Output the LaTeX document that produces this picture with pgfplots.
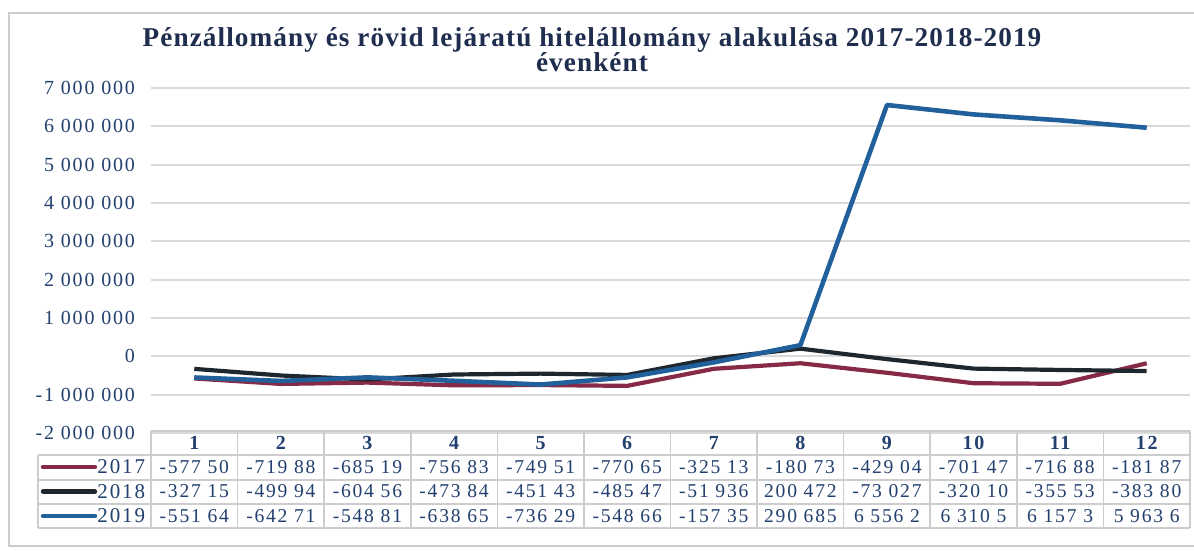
\documentclass[border=0pt]{standalone}
\usepackage{fontspec}
\setmainfont{Liberation Serif}
\newfontfamily\tf[LetterSpace=9]{Liberation Serif}
\newfontfamily\titlef[LetterSpace=4]{Liberation Serif}
\usepackage{pgfplots}
\pgfplotsset{compat=1.18}
\definecolor{cA}{HTML}{862A45}
\definecolor{cB}{HTML}{1E272E}
\definecolor{cC}{HTML}{22609C}
\definecolor{navy}{HTML}{23406F}
\definecolor{titlec}{HTML}{1F2D4E}
\definecolor{gridg}{HTML}{D9D9D9}
\definecolor{frameg}{HTML}{CDCDCD}
\begin{document}
\begin{tikzpicture}
\useasboundingbox (0,0) rectangle (597pt,275.5pt);
\fill[white] (0,0) rectangle (597pt,275.5pt);
\draw[frameg, line width=1pt] (597pt,269pt) -- (4.5pt,269pt) -- (4.5pt,2.5pt) -- (597pt,2.5pt);
\node[text=titlec, font=\titlef\bfseries\fontsize{13.6}{12.5}\selectfont, align=center] at (296pt,250.5pt)
  {Pénzállomány és rövid lejáratú hitelállomány alakulása 2017-2018-2019\\évenként};
\begin{axis}[
  at={(75.5pt,59pt)}, anchor=south west, scale only axis,
  width=519.5pt, height=172.5pt,
  xmin=0.5, xmax=12.5, ymin=-2000000, ymax=7000000,
  xtick=\empty, scaled y ticks=false,
  ytick={-2000000,-1000000,0,1000000,2000000,3000000,4000000,5000000,6000000,7000000},
  yticklabels={-2 000 000,-1 000 000,0,1 000 000,2 000 000,3 000 000,4 000 000,5 000 000,6 000 000,7 000 000},
  ymajorgrids, grid style={gridg, line width=0.9pt},
  axis line style={draw=none}, major tick length=0pt,
  yticklabel style={font=\tf\fontsize{10}{12}\selectfont, text=navy, xshift=-4.5pt},
  clip=false,
]
\addplot[cA, line width=2.1pt, line join=round] coordinates {
(1,-577500) (2,-719880) (3,-685190) (4,-756830) (5,-749510) (6,-770650)
(7,-325130) (8,-180730) (9,-429040) (10,-701470) (11,-716880) (12,-181870)};
\addplot[cB, line width=2.1pt, line join=round] coordinates {
(1,-327150) (2,-499940) (3,-604560) (4,-473840) (5,-451430) (6,-485470)
(7,-51936) (8,200472) (9,-73027) (10,-320100) (11,-355530) (12,-383800)};
\addplot[cC, line width=2.3pt, line join=round] coordinates {
(1,-551640) (2,-642710) (3,-548810) (4,-638650) (5,-736290) (6,-548660)
(7,-157350) (8,290685) (9,6556200) (10,6310500) (11,6157300) (12,5963600)};
\end{axis}
% data table
\begin{scope}[frameg, line width=0.8pt]
\draw (75.5pt,60pt) -- (595pt,60pt);
\foreach \yy in {48,35.5,23.5,11.5} \draw (19pt,\yy pt) -- (595pt,\yy pt);
\draw (19pt,48pt) -- (19pt,11.5pt);
\foreach \i in {0,...,12} \draw ({75.5pt+\i*43.2917pt},60pt) -- ({75.5pt+\i*43.2917pt},11.5pt);
\end{scope}
\foreach \i in {1,...,12} \node[text=navy, font=\tf\bfseries\fontsize{10}{12}\selectfont] at ({75.5pt+(\i-0.5)*43.2917pt},54pt) {\i};
\foreach \i/\v in {1/-577 50,2/-719 88,3/-685 19,4/-756 83,5/-749 51,6/-770 65,7/-325 13,8/-180 73,9/-429 04,10/-701 47,11/-716 88,12/-181 87}
  \node[text=navy, font=\tf\fontsize{9.8}{11}\selectfont] at ({75.5pt+(\i-0.5)*43.2917pt},42pt) {\v};
\foreach \i/\v in {1/-327 15,2/-499 94,3/-604 56,4/-473 84,5/-451 43,6/-485 47,7/-51 936,8/200 472,9/-73 027,10/-320 10,11/-355 53,12/-383 80}
  \node[text=navy, font=\tf\fontsize{9.8}{11}\selectfont] at ({75.5pt+(\i-0.5)*43.2917pt},29.75pt) {\v};
\foreach \i/\v in {1/-551 64,2/-642 71,3/-548 81,4/-638 65,5/-736 29,6/-548 66,7/-157 35,8/290 685,9/6 556 2,10/6 310 5,11/6 157 3,12/5 963 6}
  \node[text=navy, font=\tf\fontsize{9.8}{11}\selectfont] at ({75.5pt+(\i-0.5)*43.2917pt},17.5pt) {\v};
\draw[cA, line width=2.2pt, line cap=round] (21.5pt,42pt) -- (47.5pt,42pt);
\draw[cB, line width=2.2pt, line cap=round] (21.5pt,29.75pt) -- (47.5pt,29.75pt);
\draw[cC, line width=2.2pt, line cap=round] (21.5pt,17.5pt) -- (47.5pt,17.5pt);
\node[anchor=west, inner sep=0pt, text=navy, font=\tf\fontsize{10.5}{12}\selectfont] at (48.5pt,42pt) {2017};
\node[anchor=west, inner sep=0pt, text=navy, font=\tf\fontsize{10.5}{12}\selectfont] at (48.5pt,29.75pt) {2018};
\node[anchor=west, inner sep=0pt, text=navy, font=\tf\fontsize{10.5}{12}\selectfont] at (48.5pt,17.5pt) {2019};
\end{tikzpicture}
\end{document}
